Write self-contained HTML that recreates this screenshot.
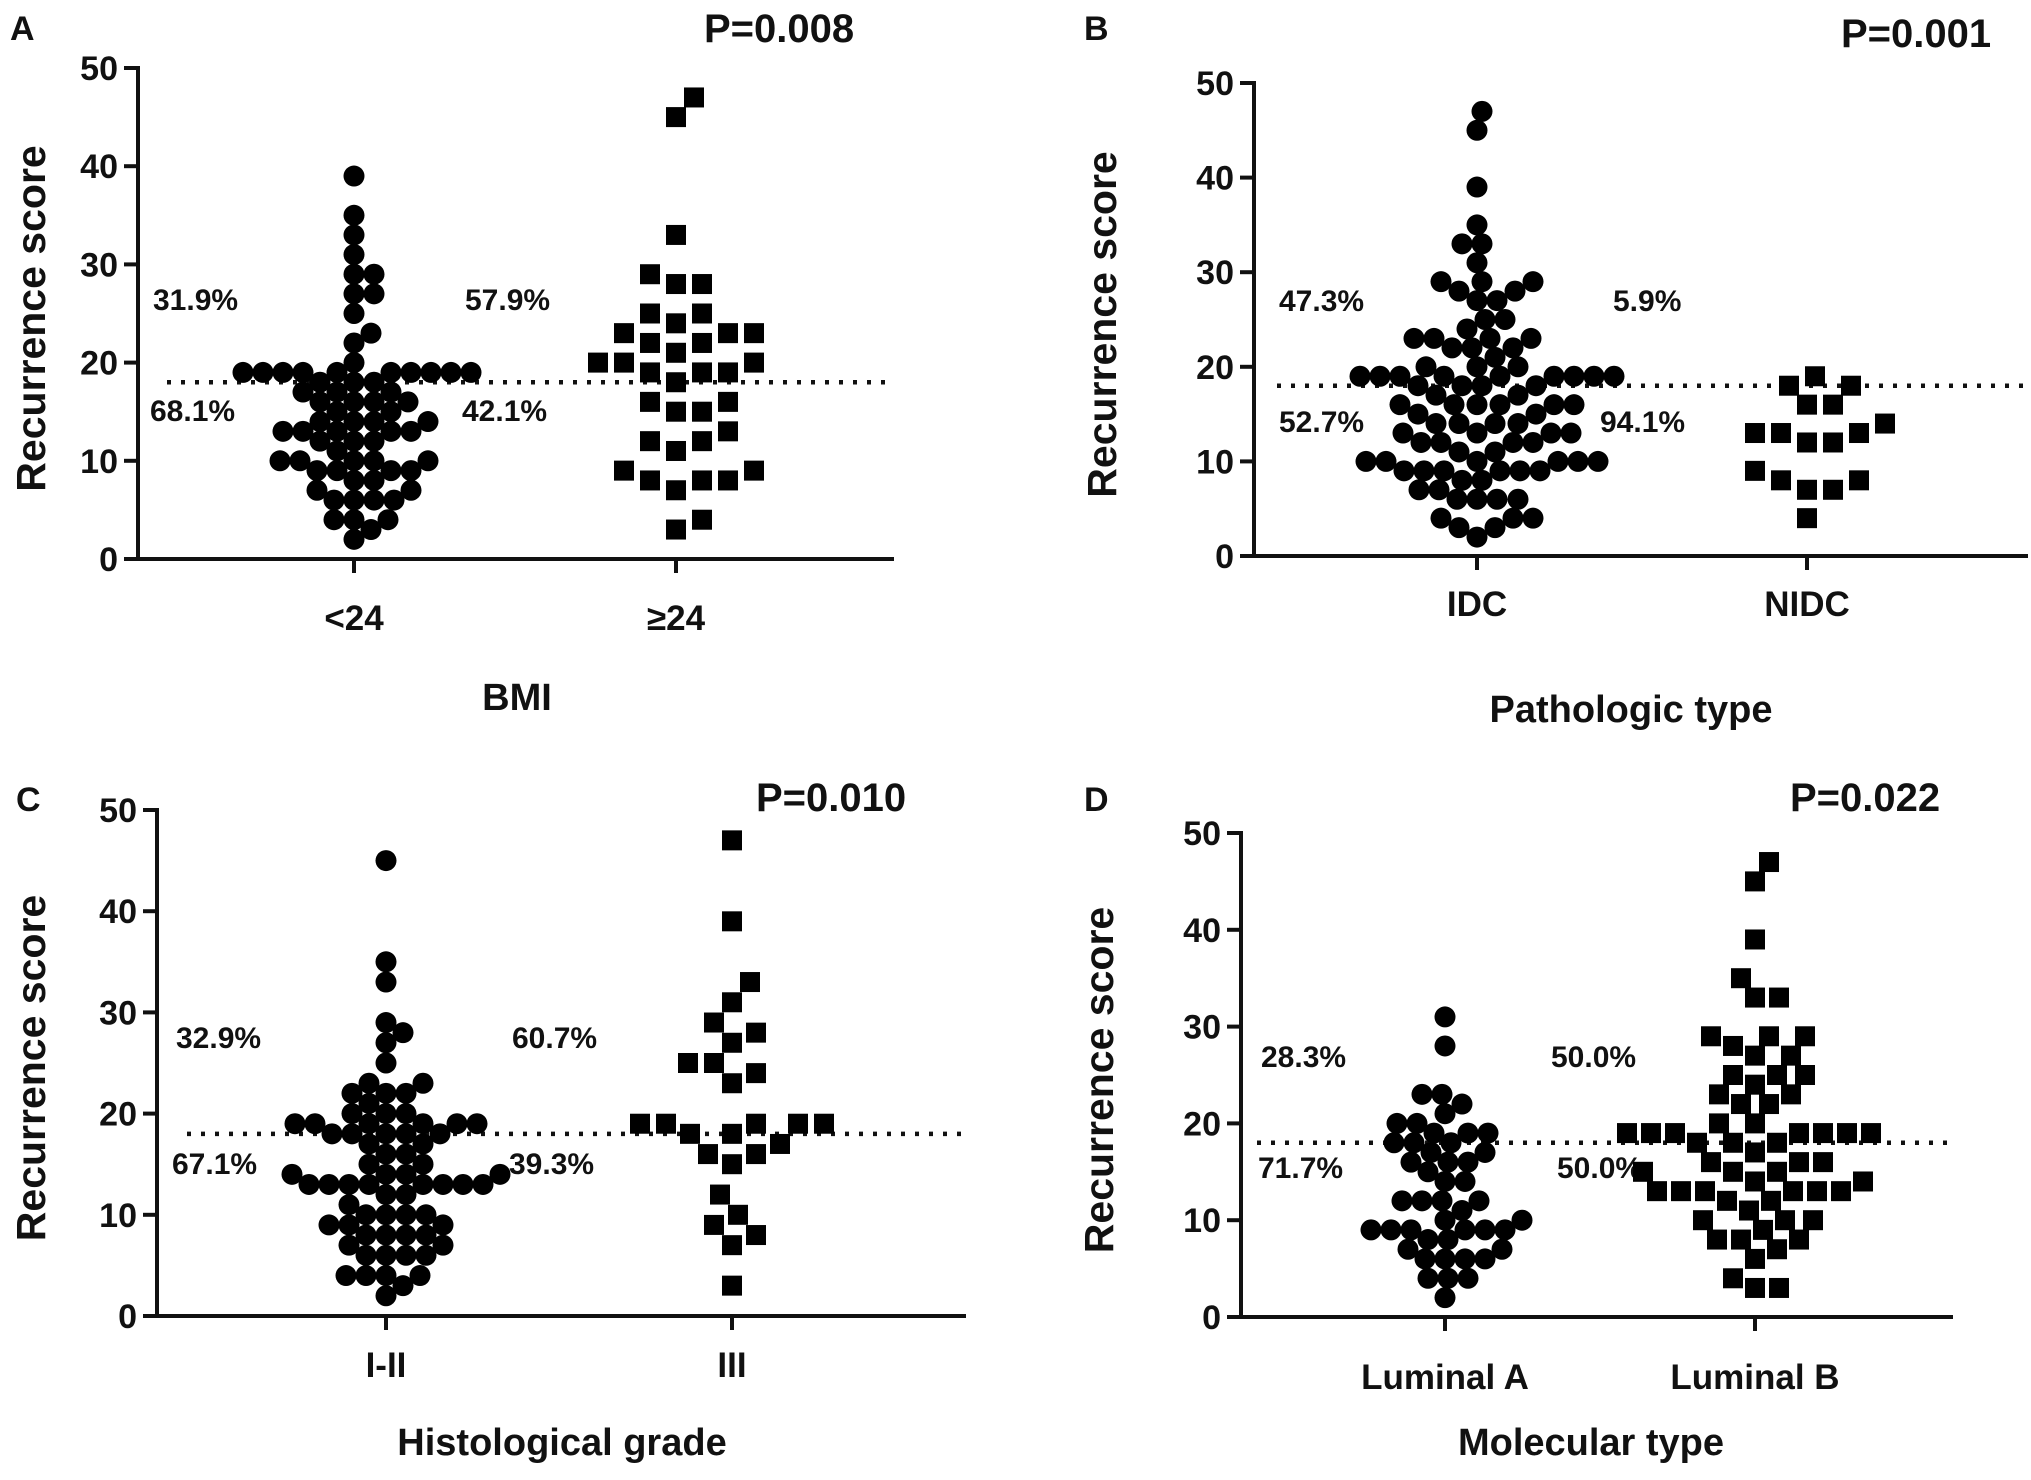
<!DOCTYPE html>
<html><head><meta charset="utf-8"><style>
html,body{margin:0;padding:0;background:#fff;}
svg{display:block;font-family:"Liberation Sans",Arial,sans-serif;font-weight:bold;}
</style></head><body>
<svg id="fig" width="2031" height="1480" viewBox="0 0 2031 1480" xmlns="http://www.w3.org/2000/svg"></svg>
<script>
// ---- data ----
const yTicks = [0,10,20,30,40,50];
const cutoff = 18;
const panelLetters = ["A","B","C","D"];
const pValues = ["P=0.008","P=0.001","P=0.010","P=0.022"];
const xTitles = ["BMI","Pathologic type","Histological grade","Molecular type"];
const catsA = ["<24","\u226524"];
const catsB = ["IDC","NIDC"];
const catsC = ["I-II","III"];
const catsD = ["Luminal A","Luminal B"];
const pctA = ["31.9%","68.1%","57.9%","42.1%"];
const pctB = ["47.3%","52.7%","5.9%","94.1%"];
const pctC = ["32.9%","67.1%","60.7%","39.3%"];
const pctD = ["28.3%","71.7%","50.0%","50.0%"];
const aLow = [39,35,33,31,29,29,27,27,25,23,22,20,19,19,19,19,19,19,19,19,19,19,18,18,18,17,17,17,16,16,16,16,15,15,14,14,14,14,13,13,13,13,13,12,12,12,11,10,10,10,10,10,9,9,9,9,8,8,7,7,6,6,6,6,4,4,4,3,2];
const aHigh = [47,45,33,29,28,28,25,25,24,23,23,23,22,22,21,20,20,20,19,19,19,18,16,16,15,15,13,12,12,11,9,9,8,8,8,7,4,3];
const bIdc = [47,45,39,35,33,33,31,29,29,29,28,28,27,27,25,25,24,23,23,23,23,22,22,22,21,20,20,20,19,19,19,19,19,19,19,19,19,18,18,18,18,17,17,16,16,16,16,16,16,15,15,14,14,14,14,13,13,13,13,12,12,12,12,11,11,10,10,10,10,10,10,9,9,9,9,9,9,8,8,7,7,6,6,6,6,4,4,4,3,3,2];
const bNidc = [19,18,18,16,16,14,13,13,13,12,12,9,8,8,7,7,4];
const cLow = [45,35,33,29,28,27,25,23,23,22,22,22,21,20,20,20,19,19,19,19,19,19,18,18,18,18,18,17,17,16,16,15,15,14,14,14,14,13,13,13,13,13,13,13,13,12,12,11,10,10,10,10,9,9,9,8,8,8,8,7,7,6,6,6,6,4,4,4,4,3,2];
const cHigh = [47,39,33,31,29,28,27,25,25,24,23,19,19,19,19,19,18,18,17,16,16,15,12,10,9,8,7,3];
const dLumA = [31,28,23,23,22,21,20,20,19,19,19,18,18,18,17,17,16,16,16,15,14,14,12,12,12,12,11,10,10,9,9,9,9,9,9,8,8,7,7,6,6,6,6,4,4,4,2];
const dLumB = [47,45,39,35,33,33,29,29,29,28,27,27,25,25,25,24,23,23,22,22,20,20,19,19,19,19,19,19,19,18,18,18,17,16,16,16,15,15,15,14,14,13,13,13,13,13,13,12,12,11,10,10,10,9,8,8,8,7,6,4,3,3];

// ---- layout (not data) ----
const NS = "http://www.w3.org/2000/svg";
const svg = document.getElementById("fig");
const layouts = [
 {ax:138,y0:559,y50:68,xEnd:894,dotStart:167,cx:[354,676],letterX:10,letterY:40,pX:704,pY:42,pct:[[153,310],[150,421],[465,310],[462,421]],catY:630,titleX:517,titleY:710,yTitleX:31,sqD:26},
 {ax:1254,y0:556,y50:83,xEnd:2028,dotStart:1277,cx:[1477,1807],letterX:1084,letterY:40,pX:1841,pY:47,pct:[[1279,311],[1279,432],[1613,311],[1600,432]],catY:616,titleX:1631,titleY:722,yTitleX:1102,sqD:26},
 {ax:157,y0:1316,y50:810,xEnd:966,dotStart:187,cx:[386,732],letterX:16,letterY:811,pX:756,pY:811,pct:[[176,1048],[172,1174],[512,1048],[509,1174]],catY:1377,titleX:562,titleY:1455,yTitleX:31,sqD:26},
 {ax:1241,y0:1317,y50:833,xEnd:1953,dotStart:1257,cx:[1445,1755],letterX:1084,letterY:811,pX:1790,pY:811,pct:[[1261,1067],[1258,1178],[1551,1067],[1557,1178]],catY:1389,titleX:1591,titleY:1455,yTitleX:1099,sqD:23.5}
];
const panelCats = [catsA,catsB,catsC,catsD];
const panelPct = [pctA,pctB,pctC,pctD];
const panelData = [[aLow,aHigh],[bIdc,bNidc],[cLow,cHigh],[dLumA,dLumB]];

function mk(tag, attrs, parent){
  const e = document.createElementNS(NS, tag);
  for (const k in attrs) e.setAttribute(k, attrs[k]);
  (parent||svg).appendChild(e);
  return e;
}
function txt(parent, x, y, s, size, anchor){
  const t = mk("text", {x:x, y:y, "font-size":size, "text-anchor":anchor||"start", fill:"#111"}, parent);
  t.textContent = s;
  return t;
}
function swarm(vals, cx, yScale, d, step){
  const sorted = vals.slice().sort((a,b)=>a-b);
  const placed = [];
  sorted.forEach(v=>{
    const y = yScale(v);
    let best = null;
    for (let k=0;k<400;k++){
      const cands = k===0?[0]:[k*step,-k*step];
      for (const off of cands){
        const x = cx+off;
        let ok = true;
        for (const p of placed){
          const dy=p.y-y, dx=p.x-x;
          if (dx*dx+dy*dy < d*d){ok=false;break;}
        }
        if (ok){best=x;break;}
      }
      if (best!==null) break;
    }
    placed.push({x:best,y:y,v:v});
  });
  return placed;
}

layouts.forEach((L, i)=>{
  const g = mk("g", {});
  
  
  const yScale = v => L.y0 - (v/50)*(L.y0-L.y50);

  const letter = txt(g, L.letterX, L.letterY, panelLetters[i], 34);
  
  
  const p = txt(g, L.pX, L.pY, pValues[i], 40);
  
  

  const yAxis = mk("line", {x1:L.ax, y1:L.y50-2, x2:L.ax, y2:L.y0+2, stroke:"#111","stroke-width":4}, g);
  
  
  yTicks.forEach(t=>{
    const y = yScale(t);
    const tk = mk("line", {x1:L.ax-14, y1:y, x2:L.ax, y2:y, stroke:"#111","stroke-width":4}, g);
    
    
    const tl = txt(g, L.ax-20, y+12, String(t), 34, "end");
    
    
  });
  const xAxis = mk("line", {x1:L.ax-14, y1:L.y0, x2:L.xEnd, y2:L.y0, stroke:"#111","stroke-width":4}, g);
  
  
  L.cx.forEach((cx, j)=>{
    const tk = mk("line", {x1:cx, y1:L.y0, x2:cx, y2:L.y0+14, stroke:"#111","stroke-width":4}, g);
    
    
    const cl = txt(g, cx, L.catY, panelCats[i][j], 35, "middle");
    
    
  });
  const xt = txt(g, L.titleX, L.titleY, xTitles[i], 38, "middle");
  
  
  const ymid = (L.y0+L.y50)/2 + 5;
  const yt = txt(g, 0, 0, "Recurrence score", 41, "middle");
  yt.setAttribute("transform", "translate(" + (L.yTitleX+14) + "," + ymid + ") rotate(-90)");
  
  

  const cy = yScale(cutoff);
  const dl = mk("line", {x1:L.dotStart, y1:cy, x2:L.xEnd, y2:cy, stroke:"#111","stroke-width":4.5,"stroke-dasharray":"4 10"}, g);
  
  

  L.pct.forEach((pp, j)=>{
    const t = txt(g, pp[0], pp[1], panelPct[i][j], 30);
    
    
  });

  const circ = swarm(panelData[i][0], L.cx[0], yScale, 19.5, 1);
  circ.forEach(pt=>{
    const c = mk("circle", {cx:pt.x, cy:pt.y, r:10.5, fill:"#000"}, g);
    
    
  });
  const sq = swarm(panelData[i][1], L.cx[1], yScale, L.sqD, 2);
  sq.forEach(pt=>{
    const r = mk("rect", {x:pt.x-10, y:pt.y-10, width:20, height:20, fill:"#000"}, g);
    
    
  });
});
</script>
</body></html>
